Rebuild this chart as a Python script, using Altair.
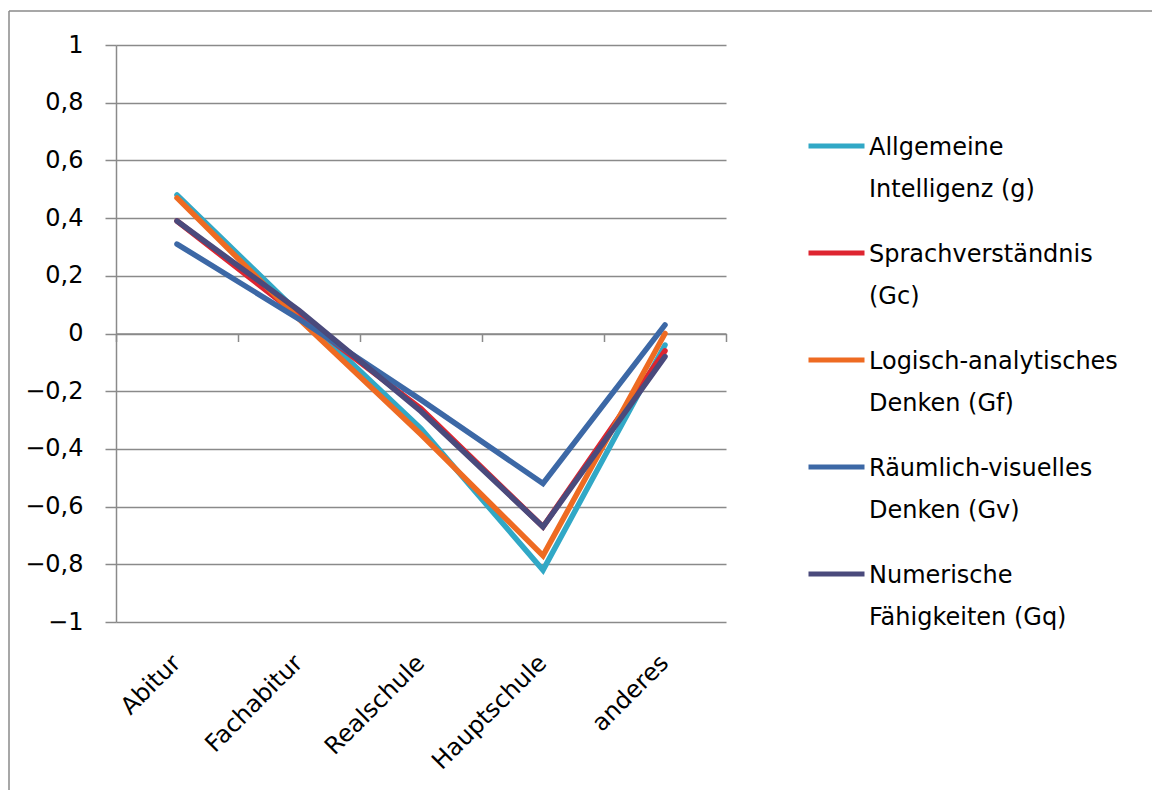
import altair as alt
import pandas as pd

categories = ["Abitur", "Fachabitur", "Realschule", "Hauptschule", "anderes"]
series_names = [
    "Allgemeine Intelligenz (g)",
    "Sprachverständnis (Gc)",
    "Logisch-analytisches Denken (Gf)",
    "Räumlich-visuelles Denken (Gv)",
    "Numerische Fähigkeiten (Gq)",
]
g_vals = [0.48, 0.07, -0.33, -0.82, -0.04]
gc_vals = [0.39, 0.06, -0.26, -0.67, -0.06]
gf_vals = [0.47, 0.05, -0.35, -0.77, 0.00]
gv_vals = [0.31, 0.05, -0.23, -0.52, 0.03]
gq_vals = [0.39, 0.08, -0.27, -0.67, -0.08]
colors = ["#31A8C6", "#DE2530", "#EE6B22", "#3C68A6", "#4A4A7C"]
y_ticks = [-1, -0.8, -0.6, -0.4, -0.2, 0, 0.2, 0.4, 0.6, 0.8, 1]

rows = []
for name, vals in zip(series_names, [g_vals, gc_vals, gf_vals, gv_vals, gq_vals]):
    for i, (c, v) in enumerate(zip(categories, vals)):
        rows.append({"Kategorie": c, "idx": i, "Wert": v, "Faehigkeit": name})
df = pd.DataFrame(rows)

FONT = "DejaVu Sans"
FS = 24
GRID = "#8a8a8a"
W, H = 610, 577

x_labels = alt.X(
    "Kategorie:N",
    sort=categories,
    scale=alt.Scale(paddingInner=0, paddingOuter=0),
    axis=alt.Axis(
        orient="bottom", title=None, domain=False, ticks=False, tickSize=0, labelAngle=315,
        labelAlign="right", labelBaseline="middle", labelPadding=37,
        labelFont=FONT, labelFontSize=FS, labelColor="#000000",
    ),
)

y_enc = alt.Y(
    "Wert:Q",
    scale=alt.Scale(domain=[-1, 1], nice=False, zero=False),
    axis=alt.Axis(
        title=None, values=y_ticks, grid=True, gridColor=GRID, gridWidth=1.5,
        domainColor=GRID, domainWidth=1.5, tickColor=GRID, tickWidth=1.5, tickSize=11,
        labelPadding=22, labelFont=FONT, labelFontSize=FS, labelColor="#000000",
        labelExpr="replace(format(datum.value, '~g'), '.', ',')",
    ),
)

lines = alt.Chart(df).mark_line(strokeWidth=5.5, strokeCap="round", strokeJoin="miter").encode(
    x=x_labels,
    y=y_enc,
    color=alt.Color(
        "Faehigkeit:N",
        scale=alt.Scale(domain=series_names, range=colors),
        legend=alt.Legend(
            title=None, orient="none", legendX=690, legendY=79, padding=0,
            symbolType="M-1,-0.3H1", symbolSize=3136, symbolStrokeWidth=5,
            labelOffset=2, labelFont=FONT, labelFontSize=FS, labelColor="#000000",
            labelLimit=500, labelBaseline="alphabetic", rowPadding=29,
            labelExpr="[slice(datum.label, 0, indexof(datum.label, ' ')), slice(datum.label, indexof(datum.label, ' ') + 1)]",
        ),
    ),
    order=alt.Order("idx:Q"),
)

zero_axis = alt.Chart(df).mark_point(opacity=0).encode(
    x=alt.X(
        "Kategorie:N",
        sort=categories,
        axis=alt.Axis(
            orient="bottom", title=None, labels=False, grid=False, offset=-H / 2,
            domainColor=GRID, domainWidth=1.5, tickColor=GRID, tickWidth=1.5, tickSize=8,
            bandPosition=0, tickBand="extent",
        ),
    ),
    y=alt.Y("Wert:Q"),
)

frame_df = pd.DataFrame({"k": [0]})
left_border = alt.Chart(frame_df).mark_rule(color=GRID, strokeWidth=1.5).encode(
    x=alt.value(-107), y=alt.value(-34), y2=alt.value(745)
)
top_border = alt.Chart(frame_df).mark_rule(color=GRID, strokeWidth=1.5).encode(
    x=alt.value(-107), x2=alt.value(1036), y=alt.value(-34)
)

chart = (
    alt.layer(zero_axis, lines, left_border, top_border)
    .resolve_axis(x="independent")
    .properties(width=W, height=H, padding={"left": 8, "top": 10, "right": 0, "bottom": 0})
    .configure(background="white", style={"guide-label": {"lineHeight": 42}})
    .configure_view(stroke=None)
)

chart.save("out.html", embed_options={"renderer": "svg", "actions": False})
